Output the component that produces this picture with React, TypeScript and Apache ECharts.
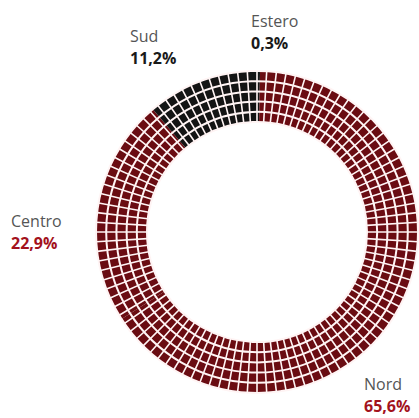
import React, { useEffect, useRef } from "react";
import * as echarts from "echarts";

const regions = ["Estero", "Nord", "Centro", "Sud"];
const shares = [0.3, 65.6, 22.9, 11.2];
const shareLabels = ["0,3%", "65,6%", "22,9%", "11,2%"];
const regionColors = ["#141414", "#6a0c12", "#6a0c12", "#141414"];
const valueColors = ["#1a1a1a", "#a3121c", "#a3121c", "#1a1a1a"];
const labelPos: Record<string, [number, number]> = {
  Estero: [251, 10],
  Nord: [364, 373],
  Centro: [11, 210],
  Sud: [130, 25],
};

export default function App() {
  const ref = useRef<HTMLDivElement>(null);
  useEffect(() => {
    if (!ref.current) return;
    const chart = echarts.init(ref.current, null, { renderer: "svg" });
    const center = [257, 232];
    const radius = [110, 161];
    chart.setOption({
      animation: false,
      backgroundColor: "#ffffff",
      polar: { center, radius },
      angleAxis: {
        type: "value",
        min: 0,
        max: 104,
        interval: 1,
        startAngle: 90,
        z: 10,
        axisLine: { show: false },
        axisTick: { show: false },
        axisLabel: { show: false },
        splitLine: { show: true, lineStyle: { color: "#fff4f4", width: 1.6 } },
      },
      radiusAxis: {
        type: "value",
        min: 0,
        max: 5,
        interval: 1,
        z: 10,
        axisLine: { show: false },
        axisTick: { show: false },
        axisLabel: { show: false },
        splitLine: { show: true, lineStyle: { color: "#fff4f4", width: 2 } },
      },
      series: [
        {
          type: "pie",
          center,
          radius,
          startAngle: 90,
          clockwise: true,
          avoidLabelOverlap: false,
          data: regions.map((r, i) => ({
            name: r,
            value: shares[i],
            itemStyle: { color: regionColors[i] },
            label: {
              formatter: `{n|${r}}\n{v${i}|${shareLabels[i]}}`,
            },
          })),
          label: {
            show: true,
            position: "outside",
            fontFamily: "Open Sans",
            rich: {
              n: {
                fontFamily: "Open Sans",
                fontSize: 16,
                color: "#555555",
                lineHeight: 22,
                align: "left",
              },
              ...Object.fromEntries(
                valueColors.map((c, i) => [
                  `v${i}`,
                  {
                    fontFamily: "Open Sans",
                    fontSize: 16,
                    fontWeight: "bold",
                    color: c,
                    lineHeight: 22,
                    align: "left",
                  },
                ])
              ),
            },
          },
          labelLine: { show: false },
          labelLayout: (params: any) => {
            const p = labelPos[regions[params.dataIndex]];
            return { x: p[0], y: p[1], align: "left", verticalAlign: "top" };
          },
        },
      ],
    });
    return () => chart.dispose();
  }, []);
  return (
    <div
      ref={ref}
      style={{ position: "fixed", left: 0, top: 0, width: 419, height: 418 }}
    />
  );
}
